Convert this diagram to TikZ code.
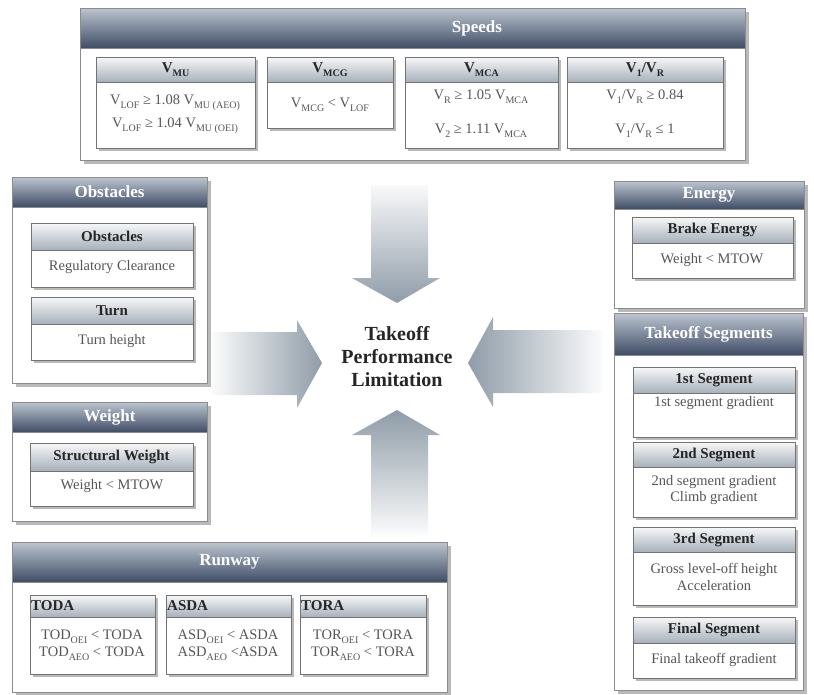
\documentclass[tikz,border=0pt]{standalone}
\usepackage{fontspec}
\setmainfont{Liberation Serif}
\usetikzlibrary{shadows}
\definecolor{hdtop}{HTML}{BCC5CF}
\definecolor{hdbot}{HTML}{3F4D66}
\definecolor{shtop}{HTML}{F7F8F9}
\definecolor{shbot}{HTML}{A7B0BA}
\definecolor{arr}{HTML}{8F9CA8}
\definecolor{bodytxt}{HTML}{555555}
\newcommand\lo[1]{\raisebox{-0.6ex}{\fontsize{10}{10}\selectfont #1}}
\tikzset{
 panel/.style={draw=black!45, fill=white, line width=0.6pt, inner sep=0pt, outer sep=0pt,
   drop shadow={shadow xshift=3.5pt, shadow yshift=-3.5pt, opacity=0.55}},
 phead/.style={draw=black!45, line width=0.6pt, top color=hdtop, bottom color=hdbot, text=white,
   font=\bfseries\fontsize{17}{20}\selectfont, inner sep=0pt, outer sep=0pt},
 ptitle/.style={text=white, font=\bfseries\fontsize{17}{20}\selectfont, inner sep=0pt},
 subbody/.style={draw=black!55, fill=white, line width=0.6pt, inner sep=0pt, outer sep=0pt,
   drop shadow={shadow xshift=2.5pt, shadow yshift=-2.5pt, opacity=0.55}},
 subhead/.style={draw=black!55, line width=0.6pt, top color=shtop, bottom color=shbot, text=black!85,
   font=\bfseries\fontsize{15}{17}\selectfont, inner sep=0pt, outer sep=0pt},
 stitle/.style={text=black!85, font=\bfseries\fontsize{15}{17}\selectfont, inner sep=0pt},
 btxt/.style={text=bodytxt, font=\fontsize{14.5}{16.5}\selectfont, align=center, inner sep=0pt},
 bigtxt/.style={text=black!85, font=\bfseries\fontsize{20}{23}\selectfont, align=center, inner sep=0pt},
}
\newcommand\mkpanel[7]{%
  \node[panel, minimum width=#4pt, minimum height=#5pt, anchor=north west] (#1) at (#2,#3) {};
  \node[phead, minimum width=#4pt, minimum height=#6pt, anchor=north west] (#1-head) at (#2,#3) {#7};
}
\newcommand\mksub[7]{%
  \node[subbody, minimum width=#4pt, minimum height=#5pt, anchor=north west] (#1) at (#2,#3) {};
  \node[subhead, minimum width=#4pt, minimum height=#6pt, anchor=north west] (#1-head) at (#2,#3) {#7};
}
\begin{document}
\begin{tikzpicture}[x=1pt, y=-1pt]
\useasboundingbox (0,0) rectangle (814,694);

% ---------- central arrows ----------
\path[top color=arr!6, bottom color=arr] (371,185) -- (428,185) -- (428,278) -- (440,278)
   -- (397,303) -- (352,278) -- (371,278) -- cycle;
\path[top color=arr, bottom color=arr!4] (397,410) -- (440,435) -- (428,435) -- (428,535)
   -- (371,535) -- (371,435) -- (352,435) -- cycle;
\path[left color=arr!4, right color=arr] (212,332) -- (297,332) -- (297,320) -- (322,363)
   -- (297,408) -- (297,395) -- (212,395) -- cycle;
\path[left color=arr, right color=arr!4] (468,363) -- (493,317) -- (493,330) -- (602,330)
   -- (602,393) -- (493,393) -- (493,407) -- cycle;

\node[bigtxt] (center) at (397,357) {Takeoff\\Performance\\Limitation};

% ---------- Speeds ----------
\mkpanel{speeds}{80}{8}{665}{152}{40}{}
\node[ptitle] (speeds-title) at (477,28) {Speeds};
\mksub{vmu}{96}{57}{159}{91}{25}{V\lo{MU}}
\mksub{vmcg}{267}{57}{126}{71}{25}{V\lo{MCG}}
\mksub{vmca}{405}{57}{153}{91}{25}{V\lo{MCA}}
\mksub{vone}{567}{57}{156}{91}{25}{V\lo{1}/V\lo{R}}
\node[btxt] (vmu-t1) at (175,103) {V\lo{LOF} ≥ 1.08 V\lo{MU (AEO)}};
\node[btxt] (vmu-t2) at (175,126) {V\lo{LOF} ≥ 1.04 V\lo{MU (OEI)}};
\node[btxt] (vmcg-t1) at (330,105) {V\lo{MCG} < V\lo{LOF}};
\node[btxt] (vmca-t1) at (481,97) {V\lo{R} ≥ 1.05 V\lo{MCA}};
\node[btxt] (vmca-t2) at (481,131) {V\lo{2} ≥ 1.11 V\lo{MCA}};
\node[btxt] (vone-t1) at (645,97) {V\lo{1}/V\lo{R} ≥ 0.84};
\node[btxt] (vone-t2) at (645,131) {V\lo{1}/V\lo{R} ≤ 1};

% ---------- Obstacles ----------
\mkpanel{obst}{12}{177}{195}{206}{30}{Obstacles}
\mksub{obs}{31}{223}{162}{64}{27}{Obstacles}
\node[btxt] (obs-t) at (112,267) {Regulatory Clearance};
\mksub{turn}{31}{297}{162}{63}{27}{Turn}
\node[btxt] (turn-t) at (112,341) {Turn height};

% ---------- Weight ----------
\mkpanel{weight}{12}{402}{195}{119}{30}{Weight}
\mksub{sw}{30}{443}{163}{63}{28}{Structural Weight}
\node[btxt] (sw-t) at (112,486) {Weight < MTOW};

% ---------- Energy ----------
\mkpanel{energy}{614}{181}{190}{127}{28}{Energy}
\mksub{be}{632}{217}{161}{61}{26}{Brake Energy}
\node[btxt] (be-t) at (712,260) {Weight < MTOW};

% ---------- Takeoff Segments ----------
\mkpanel{segs}{614}{313}{189}{377}{42}{Takeoff Segments}
\mksub{s1}{633}{367}{162}{70}{26}{1st Segment}
\node[btxt] (s1-t) at (714,403) {1st segment gradient};
\mksub{s2}{633}{442}{162}{75}{25}{2nd Segment}
\node[btxt] (s2-t) at (714,490) {2nd segment gradient\\Climb gradient};
\mksub{s3}{633}{527}{162}{78}{25}{3rd Segment}
\node[btxt] (s3-t) at (714,577) {Gross level-off height\\Acceleration};
\mksub{s4}{633}{617}{162}{61}{26}{Final Segment}
\node[btxt] (s4-t) at (714,660) {Final takeoff gradient};

% ---------- Runway ----------
\mkpanel{runway}{12}{542}{435}{150}{40}{Runway}
\mksub{toda}{30}{595}{125}{79}{22}{}
\mksub{asda}{166}{595}{125}{79}{22}{}
\mksub{tora}{300}{595}{126}{79}{22}{}
\node[stitle, anchor=west] (toda-h) at (31,606) {TODA};
\node[stitle, anchor=west] (asda-h) at (167,606) {ASDA};
\node[stitle, anchor=west] (tora-h) at (301,606) {TORA};
\node[btxt] (toda-t) at (92,645) {TOD\lo{OEI} < TODA\\TOD\lo{AEO} < TODA};
\node[btxt] (asda-t) at (228,645) {ASD\lo{OEI} < ASDA\\ASD\lo{AEO} <ASDA};
\node[btxt] (tora-t) at (363,645) {TOR\lo{OEI} < TORA\\TOR\lo{AEO} < TORA};
\end{tikzpicture}
\end{document}
